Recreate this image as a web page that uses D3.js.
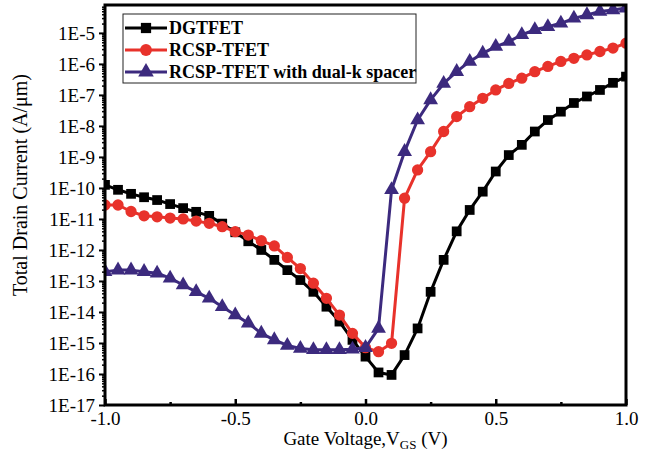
<!DOCTYPE html>
<meta charset="utf-8">
<style>
body { margin: 0; background: #fff; }
svg { display: block; }
.tick text { font-family: "Liberation Serif", "Times New Roman", serif; }
</style>
<html>
  <head>
    <script type="text/javascript" src="https://cdn.jsdelivr.net/npm/d3@7"></script>
  </head>
  <body>
    <script type="text/javascript">
// gate voltage, -1.0 .. 1.0 in 0.05 V steps
var vgs = [-1.0,-0.95,-0.9,-0.85,-0.8,-0.75,-0.7,-0.65,-0.6,-0.55,-0.5,-0.45,-0.4,-0.35,-0.3,-0.25,-0.2,-0.15,-0.1,-0.05,
           0.0,0.05,0.1,0.15,0.2,0.25,0.3,0.35,0.4,0.45,0.5,0.55,0.6,0.65,0.7,0.75,0.8,0.85,0.9,0.95,1.0];

// log10 of drain current (A/um)
var dgtfetLog = [-9.90,-10.06,-10.19,-10.30,-10.39,-10.52,-10.65,-10.77,-10.90,-11.15,-11.43,-11.72,-12.00,-12.32,-12.65,-12.97,-13.35,-13.83,-14.31,-14.90,
                 -15.44,-15.95,-16.03,-15.39,-14.53,-13.35,-12.32,-11.40,-10.71,-10.12,-9.47,-8.94,-8.61,-8.18,-7.81,-7.54,-7.26,-7.05,-6.84,-6.61,-6.41];
var rcspLog = [-10.55,-10.55,-10.76,-10.90,-10.93,-10.97,-11.00,-11.07,-11.14,-11.25,-11.41,-11.52,-11.70,-11.87,-12.24,-12.60,-13.07,-13.56,-14.10,-14.69,
               -15.15,-15.28,-15.01,-10.33,-9.42,-8.83,-8.18,-7.70,-7.38,-7.11,-6.84,-6.63,-6.46,-6.25,-6.08,-5.92,-5.82,-5.71,-5.60,-5.49,-5.33];
var dualkLog = [-12.70,-12.65,-12.65,-12.70,-12.75,-12.91,-13.13,-13.35,-13.56,-13.83,-14.10,-14.36,-14.69,-14.90,-15.08,-15.18,-15.22,-15.22,-15.22,-15.20,
                -15.15,-14.53,-10.06,-8.83,-7.81,-7.16,-6.63,-6.25,-5.92,-5.66,-5.44,-5.28,-5.06,-4.90,-4.80,-4.69,-4.53,-4.42,-4.31,-4.26,-4.20];

var seriesNames = ["DGTFET", "RCSP-TFET", "RCSP-TFET with dual-k spacer"];
var xTicks = [-1.0, -0.5, 0.0, 0.5, 1.0];
var xMinor = [-0.75, -0.25, 0.25, 0.75];
var yTickExp = [-17,-16,-15,-14,-13,-12,-11,-10,-9,-8,-7,-6,-5];

var width = 657, height = 459;
var pLeft = 105, pRight = 626, pTop = 5, pBottom = 405;
var serif = '"Liberation Serif", "Times New Roman", serif';

var colors = ["#000000", "#e8322b", "#3c2a7e"];
var shapes = [d3.symbolSquare, d3.symbolCircle, d3.symbolTriangle];
var sizes = [95, 100, 95];

var svg = d3.select("body")
        .append("svg")
        .attr("width", width)
        .attr("height", height);

var x = d3.scaleLinear().domain([-1, 1]).range([pLeft, pRight]);
var y = d3.scaleLog().domain([1e-17, Math.pow(10, -4.1)]).range([pBottom, pTop]);

svg.append("clipPath").attr("id", "plotclip")
    .append("rect")
    .attr("x", pLeft).attr("y", pTop)
    .attr("width", pRight - pLeft).attr("height", pBottom - pTop);

// y axis, ticks outward + minor log ticks
var yMinor = [];
yTickExp.slice(0, -1).forEach(function(e) {
    for (var k = 2; k < 10; k++) yMinor.push(k * Math.pow(10, e));
});
[2, 3, 4, 5, 6, 7].forEach(function(k) {
    var v = k * 1e-5;
    if (v < y.domain()[1]) yMinor.push(v);
});

svg.append("g")
    .attr("transform", "translate(" + pLeft + ",0)")
    .call(d3.axisLeft(y).tickValues(yMinor).tickSize(3).tickFormat(""))
    .call(function(g) { g.select(".domain").remove(); g.selectAll("line").attr("stroke-width", 1.5); });

svg.append("g")
    .attr("transform", "translate(" + pLeft + ",0)")
    .call(d3.axisLeft(y)
        .tickValues(yTickExp.map(function(e) { return Math.pow(10, e); }))
        .tickSize(6).tickPadding(4)
        .tickFormat(function(d) { return "1E" + Math.round(Math.log10(d)); }))
    .call(function(g) {
        g.select(".domain").remove();
        g.selectAll("line").attr("stroke-width", 2);
        g.selectAll("text").attr("font-size", 19).attr("fill", "#000");
    });

// x axis, ticks inward
svg.append("g")
    .attr("transform", "translate(0," + pBottom + ")")
    .call(d3.axisBottom(x).tickValues(xMinor).tickSizeInner(-3).tickSizeOuter(0).tickFormat(""))
    .call(function(g) { g.select(".domain").remove(); g.selectAll("line").attr("stroke-width", 2.5); });

svg.append("g")
    .attr("transform", "translate(0," + pBottom + ")")
    .call(d3.axisBottom(x).tickValues(xTicks).tickSizeInner(-6).tickSizeOuter(0).tickPadding(7)
        .tickFormat(function(d) { return d3.format(".1f")(d).replace("\u2212", "-"); }))
    .call(function(g) {
        g.select(".domain").remove();
        g.selectAll("line").attr("stroke-width", 2.5);
        g.selectAll("text").attr("font-size", 19).attr("fill", "#000");
    });

// curves
var allData = [dgtfetLog, rcspLog, dualkLog];
var line = d3.line()
    .x(function(d, i) { return x(vgs[i]); })
    .y(function(d) { return y(Math.pow(10, d)); });

var plot = svg.append("g").attr("clip-path", "url(#plotclip)");

allData.forEach(function(series, s) {
    plot.append("path")
        .datum(series)
        .attr("d", line)
        .attr("fill", "none")
        .attr("stroke", colors[s])
        .attr("stroke-width", 3)
        .attr("stroke-linejoin", "round");
    plot.selectAll(".m" + s)
        .data(series)
        .enter().append("path")
        .attr("class", "m" + s)
        .attr("d", d3.symbol().type(shapes[s]).size(sizes[s]))
        .attr("transform", function(d, i) {
            return "translate(" + x(vgs[i]) + "," + y(Math.pow(10, d)) + ")";
        })
        .attr("fill", colors[s]);
});

// frame
svg.append("rect")
    .attr("x", pLeft).attr("y", pTop)
    .attr("width", pRight - pLeft).attr("height", pBottom - pTop)
    .attr("fill", "none").attr("stroke", "#000").attr("stroke-width", 3);

// legend
var legend = svg.append("g");
legend.append("rect")
    .attr("x", 123).attr("y", 14).attr("width", 293).attr("height", 69)
    .attr("fill", "#fff").attr("stroke", "#222").attr("stroke-width", 1);

seriesNames.forEach(function(name, s) {
    var ly = 28 + s * 22;
    legend.append("line")
        .attr("x1", 125).attr("x2", 167).attr("y1", ly).attr("y2", ly)
        .attr("stroke", colors[s]).attr("stroke-width", 3);
    legend.append("path")
        .attr("d", d3.symbol().type(shapes[s]).size(sizes[s] + 10))
        .attr("transform", "translate(146," + ly + ")")
        .attr("fill", colors[s]);
    legend.append("text")
        .attr("x", 169).attr("y", ly + 6)
        .attr("font-family", serif).attr("font-weight", "bold").attr("font-size", 18)
        .text(name);
});

// axis titles
var xl = svg.append("text")
    .attr("x", (pLeft + pRight) / 2).attr("y", 445)
    .attr("text-anchor", "middle")
    .attr("font-family", serif).attr("font-size", 19);
xl.append("tspan").text("Gate Voltage,V");
xl.append("tspan").attr("font-size", 13).attr("dy", 4).text("GS");
xl.append("tspan").attr("dy", -4).text(" (V)");

svg.append("text")
    .attr("transform", "translate(27," + ((pTop + pBottom) / 2 - 20) + ") rotate(-90)")
    .attr("text-anchor", "middle")
    .attr("font-family", serif).attr("font-size", 20)
    .text("Total Drain Current (A/\u03bcm)");
    </script>
  </body>
</html>
